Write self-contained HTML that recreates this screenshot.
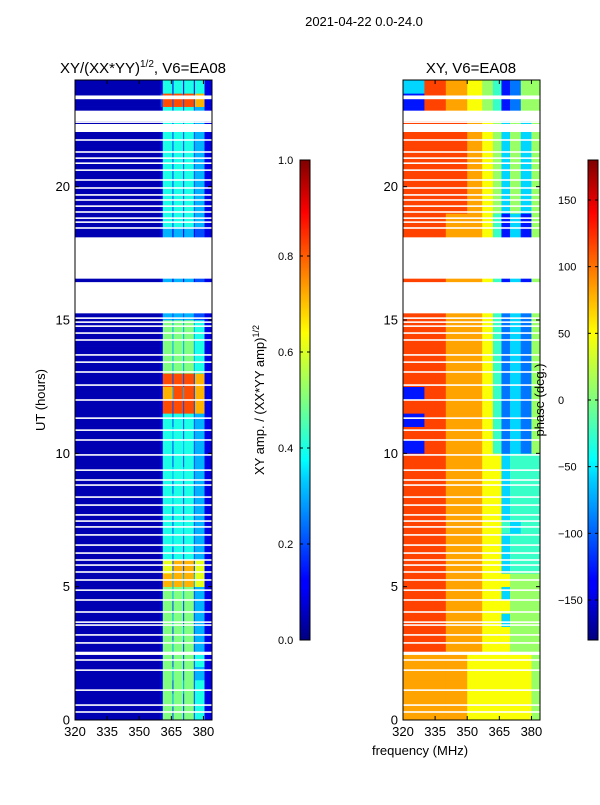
<!DOCTYPE html>
<html><head><meta charset="utf-8">
<style>
body{margin:0;background:#fff;font-family:"Liberation Sans",sans-serif;}
svg text{font-family:"Liberation Sans",sans-serif;}
</style></head>
<body>
<svg id="fig" width="600" height="800" xmlns="http://www.w3.org/2000/svg">
<defs>
<linearGradient id="jetV" x1="0" y1="1" x2="0" y2="0">
<stop offset="0" stop-color="#00007f"/><stop offset="0.11" stop-color="#0000ff"/>
<stop offset="0.125" stop-color="#0000ff"/><stop offset="0.34" stop-color="#00d4ff"/>
<stop offset="0.375" stop-color="#00ffff"/><stop offset="0.5" stop-color="#7fff7f"/>
<stop offset="0.64" stop-color="#ffff00"/><stop offset="0.89" stop-color="#ff0000"/>
<stop offset="1" stop-color="#7f0000"/>
</linearGradient>
</defs>
<text x="364" y="26" font-size="13" text-anchor="middle">2021-04-22 0.0-24.0</text>
<text x="143" y="73" font-size="15" text-anchor="middle">XY/(XX*YY)<tspan font-size="10" dy="-6">1/2</tspan><tspan dy="6">, V6=EA08</tspan></text>
<text x="471" y="73" font-size="15" text-anchor="middle">XY, V6=EA08</text>
<text x="45" y="400" font-size="13" text-anchor="middle" transform="rotate(-90 45 400)">UT (hours)</text>
<text x="420" y="755" font-size="13" text-anchor="middle">frequency (MHz)</text>
<text x="264" y="400" font-size="13" text-anchor="middle" transform="rotate(-90 264 400)">XY amp. / (XX*YY amp)<tspan font-size="9" dy="-5">1/2</tspan></text>
<g id="p1"></g>
<g id="p2"></g>
<g id="cb"></g>
<text x="544" y="400" font-size="13" text-anchor="middle" transform="rotate(-90 544 400)">phase (deg.)</text>
</svg>
<script>
const ampEdges=[320,360,361,365.5,366,370.5,371,375.5,376,380.5,384];
const phaseEdges=[320,330,340,350,357,362,366,370,375,380,384];
// rows of 0.5h from 0h upward; digit d -> amp d/10 (0 -> 0.05)
const ampRows=["0152525241","0153525241","0152535241","0153525231","0152525241",
"0153525231","0152535231","0153525231","0152525231","0153535231",
"0173737361","0162727261","0142424231","0143424231","0142434231",
"0142424231","0143424231","0142424231","0143434231","0142424231",
"0142434231","0143424231","0142424231","0182828271","0173838271",
"0182828271","0153535341","0153535341","0153535341","0153535341",
"0132323221","0131313121","0131313121","0131313121","0131313121",
"0131313121","0131313121","0142424231","0142424231","0142424231",
"0142424231","0142424231","0142424231","0142424231","0142424231",
"0142424231","0282828271","0141414141"];
// digit d -> phase index (0 = -180 ... 9 = +180 approx)
const phaseRows=["7776666665","7776666665","7776666665","7776666665","7776666665",
"8877666555","8877666555","8877663555","8877666555","8877663555",
"8877666555","8877663444","8877663444","8877663444","8877664344",
"8877663444","8877663444","8877663444","8877663444","8877663444",
"1877642325","8877642325","1877642325","8877642325","1877642325",
"8877642325","8877642325","8877642325","8877642325","8877642325",
"8877642325","8877641315","8877641315","8877641315","8877641315",
"8877641315","8877641315","8877641315","8887653535","8887653535",
"8887653535","8887653535","8887653535","8887653535","8887653535",
"1876541255","1876541255","3876541255"];
const flagBands=[[15.25,16.42],[16.55,18.1],[22.05,22.35],[22.45,22.85],[23.28,23.42],[2.44,2.56]];
const flagLines=[15.07,14.92,14.77,14.51,14.25,13.69,13.42,13.05,12.56,12.0,11.32,10.87,10.5,9.94,9.37,9.0,8.81,8.36,8.06,7.69,7.46,7.24,6.94,6.56,6.26,6.0,5.81,5.55,5.25,4.87,4.5,4.05,3.67,3.56,3.19,2.89,2.25,1.87,1.12,0.56,0.3,
22.57,22.42,22.12,21.75,21.3,21.07,20.88,20.62,20.25,19.95,19.69,19.5,19.27,19.05,18.82,18.67,18.45];
const yTicks=[0,5,10,15,20];
const xTicks=[320,335,350,365,380];
const ampTicks=[0.0,0.2,0.4,0.6,0.8,1.0];
const phaseTicks=[-150,-100,-50,0,50,100,150];

const NS="http://www.w3.org/2000/svg";
function jet(v){v=Math.max(0,Math.min(1,v));
 const r=Math.max(0,Math.min(1,1.5-Math.abs(4*v-3))),g=Math.max(0,Math.min(1,1.5-Math.abs(4*v-2))),b=Math.max(0,Math.min(1,1.5-Math.abs(4*v-1)));
 return `rgb(${Math.round(r*255)},${Math.round(g*255)},${Math.round(b*255)})`;}
function mk(tag,attrs,parent){const e=document.createElementNS(NS,tag);for(const k in attrs)e.setAttribute(k,attrs[k]);parent.appendChild(e);return e;}
const T=80,B=720;
const yS=h=>B-(h/24)*(B-T);
function panel(g,x0,x1,edges,rows,toNorm,name){
 const xS=f=>x0+(f-320)/(384-320)*(x1-x0);
 rows.forEach((row,i)=>{for(let c=0;c<edges.length-1;c++){
  const d=+row[c];
  const r=mk('rect',{x:xS(edges[c]),y:yS((i+1)*0.5),width:xS(edges[c+1])-xS(edges[c])+0.3,height:yS(i*0.5)-yS((i+1)*0.5)+0.3,fill:jet(toNorm(d))},g);
  
  
 }});
 flagBands.forEach(b=>{const r=mk('rect',{x:x0,y:yS(b[1]),width:x1-x0,height:yS(b[0])-yS(b[1]),fill:'#fff'},g);
  
  });
 flagLines.forEach(h=>{const r=mk('rect',{x:x0,y:yS(h)-0.8,width:x1-x0,height:1.6,fill:'#fff'},g);
  
  });
 const fr=mk('rect',{x:x0,y:T,width:x1-x0,height:B-T,fill:'none',stroke:'#000','stroke-width':1},g);
 
 
 yTicks.forEach(h=>{const y=yS(h);
  mk('line',{x1:x0,x2:x0+4,y1:y,y2:y,stroke:'#000'},g);mk('line',{x1:x1,x2:x1-4,y1:y,y2:y,stroke:'#000'},g);
  const t=mk('text',{x:x0-5,y:y+4.5,'font-size':13,'text-anchor':'end'},g);t.textContent=h;
  
  });
 xTicks.forEach(f=>{const x=xS(f);
  mk('line',{x1:x,x2:x,y1:B,y2:B-4,stroke:'#000'},g);mk('line',{x1:x,x2:x,y1:T,y2:T+4,stroke:'#000'},g);
  const t=mk('text',{x:x,y:B+16,'font-size':13,'text-anchor':'middle'},g);t.textContent=f;
  
  });
}
panel(document.getElementById('p1'),75,212,ampEdges,ampRows,d=>d===0?0.05:d/10,'amp');
panel(document.getElementById('p2'),403,540,phaseEdges,phaseRows,d=>0.05+d*0.095,'phase');
function cbar(g,x,ticks,lo,hi,fmt,name){
 const r=mk('rect',{x:x,y:160,width:10,height:480,fill:'url(#jetV)',stroke:'#000','stroke-width':1},g);
 
 
 ticks.forEach(v=>{const y=640-(v-lo)/(hi-lo)*480;
  mk('line',{x1:x,x2:x+3,y1:y,y2:y,stroke:'#000'},g);mk('line',{x1:x+10,x2:x+7,y1:y,y2:y,stroke:'#000'},g);
  const t=mk('text',{x:name==='amp-colorbar'?x-22:x-30,y:y+4,'font-size':11,'text-anchor':'start'},g);
  t.textContent=fmt(v);
  
  });
}
const cg=document.getElementById('cb');
cbar(cg,300,ampTicks,0,1,v=>v.toFixed(1),'amp-colorbar');
cbar(cg,588,phaseTicks,-180,180,v=>v<0?'\u2212'+(-v):''+v,'phase-colorbar');
</script>
</body></html>
